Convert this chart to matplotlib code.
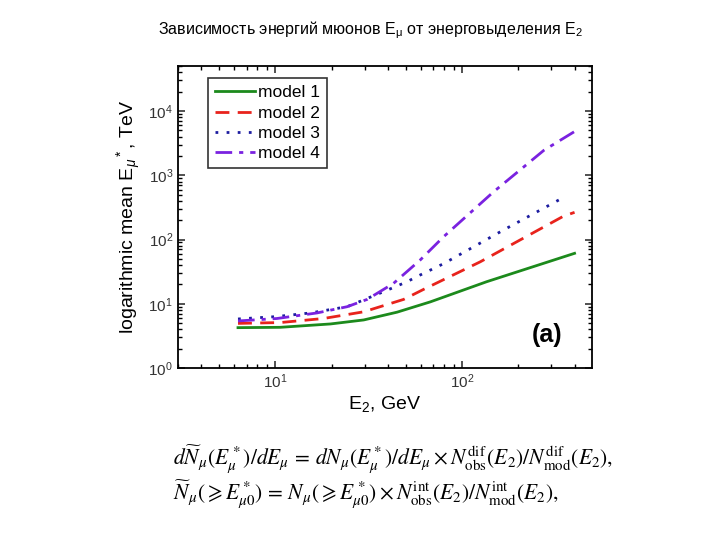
import numpy as np
import matplotlib
matplotlib.use('Agg')
import matplotlib.pyplot as plt
from matplotlib.ticker import LogLocator, NullFormatter

plt.rcParams['font.family'] = ['Liberation Sans', 'DejaVu Sans']
plt.rcParams['mathtext.fontset'] = 'custom'
plt.rcParams['mathtext.rm'] = 'Liberation Sans'
plt.rcParams['mathtext.it'] = 'Liberation Sans:italic'

# Data
e2_m1 = [6.3, 10.6, 19.7, 29.7, 44.8, 67.5, 135, 400]
mu_m1 = [4.25, 4.3, 4.85, 5.6, 7.4, 10.7, 22, 61]

e2_m2 = [6.3, 10.6, 18.1, 29.7, 48.6, 62, 125, 348, 400]
mu_m2 = [4.95, 5.1, 5.9, 7.5, 11.7, 16.7, 45, 230, 265]

e2_m3 = [6.3, 10, 15.4, 24.2, 37.9, 50.6, 58, 79.4, 166, 348]
mu_m3 = [5.8, 6.3, 7.2, 9.0, 15.4, 22, 27, 42, 140, 450]

e2_m4 = [6.3, 10.2, 16.7, 24.2, 31, 42.9, 59.6, 79.4, 147, 274, 400]
mu_m4 = [5.4, 5.9, 7.2, 9.0, 11.7, 20.8, 48, 110, 550, 2450, 4800]

fig = plt.figure(figsize=(7.2, 5.4), dpi=100)
ax = fig.add_axes([0.247, 0.3185, 0.575, 0.559])

ax.plot(e2_m1, mu_m1, color='#1c8a1c', lw=2, ls='-', label='model 1')
ax.plot(e2_m2, mu_m2, color='#e8231c', lw=2, ls=(0, (5, 3)), label='model 2')
ax.plot(e2_m3, mu_m3, color='#1c1ca0', lw=2, ls=(0, (1, 3)), label='model 3')
ax.plot(e2_m4, mu_m4, color='#7a22e0', lw=2, ls=(0, (6, 2.5, 1.5, 2.5)), label='model 4')

ax.set_xscale('log')
ax.set_yscale('log')
ax.set_xlim(3, 495)
ax.set_ylim(1, 5e4)

ax.xaxis.set_minor_locator(LogLocator(base=10, subs=np.arange(2, 10)))
ax.yaxis.set_minor_locator(LogLocator(base=10, subs=np.arange(2, 10), numticks=20))
ax.yaxis.set_major_locator(LogLocator(base=10, numticks=20))
ax.xaxis.set_minor_formatter(NullFormatter())
ax.yaxis.set_minor_formatter(NullFormatter())
ax.tick_params(which='both', direction='in', top=True, right=True)
ax.tick_params(which='major', length=5, width=1.2, labelsize=11, colors='#333333')
ax.tick_params(which='minor', length=3, width=1)
for s in ax.spines.values():
    s.set_linewidth(1.3)

ax.set_xlabel('E$_2$, GeV', fontsize=14, labelpad=2)
ax.set_ylabel('logarithmic mean E$_\\mu$$^*$, TeV', fontsize=14, labelpad=4)

leg = ax.legend(loc='upper left', bbox_to_anchor=(0.072, 0.96), fontsize=12.5,
                frameon=True, fancybox=False, edgecolor='black',
                handlelength=2.3, borderpad=0.4, labelspacing=0.3,
                handletextpad=0.2, borderaxespad=0)
leg.get_frame().set_linewidth(1.2)

ax.text(0.93, 0.07, '(a)', transform=ax.transAxes, fontsize=18,
        fontweight='bold', ha='right', va='bottom')

fig.text(0.515, 0.945, 'Зависимость энергий мюонов E$_\\mathrm{\\mu}$ от энерговыделения E$_2$',
         ha='center', va='center', fontsize=11.5)

ff = {'fontsize': 15.5, 'math_fontfamily': 'stix'}
fig.text(0.24, 0.148,
         r'$d\widetilde{N}_\mu(E^*_\mu)/dE_\mu\, =\, dN_\mu(E^*_\mu)/dE_\mu \times '
         r'N^{\rm dif}_{\rm obs}(E_2)/N^{\rm dif}_{\rm mod}(E_2),$',
         ha='left', va='center', **ff)
fig.text(0.24, 0.083,
         r'$\widetilde{N}_\mu(\geqslant E^*_{\mu0})\, =\, N_\mu(\geqslant E^*_{\mu0}) \times '
         r'N^{\rm int}_{\rm obs}(E_2)/N^{\rm int}_{\rm mod}(E_2),$',
         ha='left', va='center', **ff)

fig.savefig('out.png', dpi=100)
